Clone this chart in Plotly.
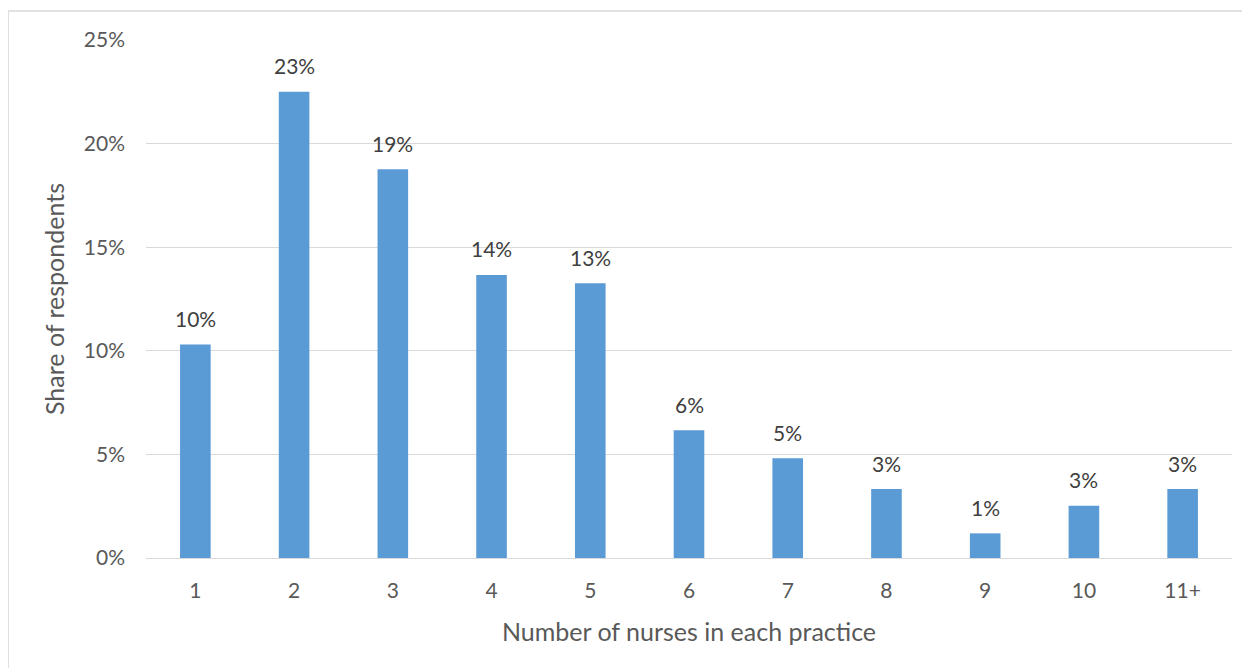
import plotly.graph_objects as go

categories = ["1", "2", "3", "4", "5", "6", "7", "8", "9", "10", "11+"]
shares = [10.31, 22.50, 18.76, 13.66, 13.26, 6.16, 4.81, 3.33, 1.19, 2.52, 3.33]
bar_labels = ["10%", "23%", "19%", "14%", "13%", "6%", "5%", "3%", "1%", "3%", "3%"]
y_ticks = [0, 5, 10, 15, 20, 25]
y_tick_labels = ["0%", "5%", "10%", "15%", "20%", "25%"]
x_title = "Number of nurses in each practice"
y_title = "Share of respondents"

FONT = "Lato"
TEXT = "#595959"
LABEL = "#404040"
GRID = "#d9d9d9"
BAR = "#5b9bd5"

fig = go.Figure()
fig.add_trace(go.Bar(
    x=categories, y=shares,
    marker=dict(color=BAR, line=dict(width=0)),
    hoverinfo="skip",
))

for i, (v, lab) in enumerate(zip(shares, bar_labels)):
    fig.add_annotation(
        x=i, y=v, xref="x", yref="y",
        text=lab, showarrow=False,
        yanchor="middle", yshift=26,
        font=dict(family=FONT, size=21, color=LABEL),
    )

# outer chart frame
fig.add_shape(type="rect", xref="paper", yref="paper",
              x0=-0.127, x1=1.03, y0=-0.3, y1=1.056,
              line=dict(color=GRID, width=1.5), fillcolor="rgba(0,0,0,0)", layer="below")

fig.update_layout(
    width=1242, height=660,
    margin=dict(l=138, r=18, t=32, b=110),
    paper_bgcolor="white", plot_bgcolor="white",
    bargap=0.69,
    showlegend=False,
    font=dict(family=FONT, color=TEXT),
    xaxis=dict(
        type="category",
        showgrid=False, showline=False, zeroline=False,
        ticks="", tickfont=dict(family=FONT, size=21, color=TEXT),
        ticklabelstandoff=18,
        title=dict(text=x_title, font=dict(family=FONT, size=25, color=TEXT), standoff=22),
    ),
    yaxis=dict(
        range=[0, 25], tickvals=y_ticks, ticktext=y_tick_labels,
        showgrid=True, gridcolor=GRID, gridwidth=1.3,
        zeroline=True, zerolinecolor=GRID, zerolinewidth=1.3,
        showline=False, ticks="",
        tickfont=dict(family=FONT, size=21, color=TEXT),
        ticklabelstandoff=20,
        title=dict(text=y_title, font=dict(family=FONT, size=25, color=TEXT), standoff=12),
    ),
)

fig.write_html("out.html")
